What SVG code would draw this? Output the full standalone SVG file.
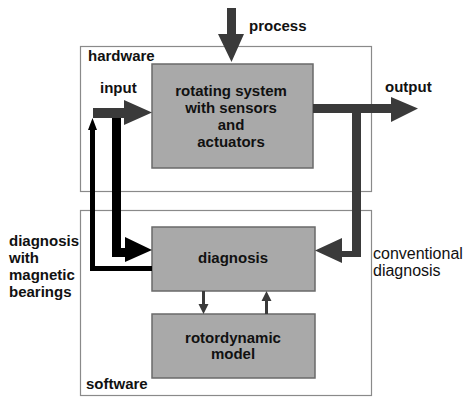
<svg xmlns="http://www.w3.org/2000/svg" width="475" height="397" viewBox="0 0 475 397">
<style>
.frame{fill:none;stroke:#8a8a8a;stroke-width:1.2}
.box{fill:#a9a9a9;stroke:#6a6a6a;stroke-width:1.5}
.t{font-family:"Liberation Sans",Arial,sans-serif;font-weight:bold;fill:#111;font-size:15px}
.in{text-anchor:middle}
.norm{font-weight:normal;font-size:16px}
.dark{fill:#3a3a3a}
.blk{fill:#000}
</style>
<rect width="475" height="397" fill="#fff"/>
<g id="hardware">
<rect class="frame" x="80.5" y="46.5" width="291" height="145"/>
<text class="t" x="88" y="61">hardware</text>
</g>
<g id="software">
<rect class="frame" x="80.5" y="210.5" width="291" height="185"/>
<text class="t" x="86" y="389">software</text>
</g>
<g id="rotating">
<rect class="box" x="152" y="64" width="161" height="104"/>
<text class="t in" x="231" y="96">rotating system</text>
<text class="t in" x="231" y="113">with sensors</text>
<text class="t in" x="231" y="130">and</text>
<text class="t in" x="231" y="147">actuators</text>
</g>
<g id="diagnosis">
<rect class="box" x="152" y="227" width="163" height="64"/>
<text class="t in" x="233" y="263">diagnosis</text>
</g>
<g id="model">
<rect class="box" x="152" y="314" width="163" height="64"/>
<text class="t in" x="233" y="343">rotordynamic</text>
<text class="t in" x="233" y="359">model</text>
</g>
<g id="connectors">
<polygon class="dark" points="227,8 236,8 236,34 244,34 231.5,62 218,34 227,34"/>
<polygon class="dark" points="93,108 124,108 124,100 152,112.5 124,125 124,118 93,118"/>
<polygon class="blk" points="112,118 121,118 121,248 125,248 125,237 152,250 125,262 125,257 112,257"/>
<polygon class="blk" points="152,266 152,271 90,271 90,130 88,130 92.5,118 97,130 95,130 95,266"/>
<polygon class="dark" points="313,104 391,104 391,97 418,108.5 391,122 391,113 313,113"/>
<polygon class="dark" points="352,113 361,113 361,257 342,257 342,263 315,250.5 342,238 342,251 352,251"/>
<polygon class="dark" points="202,291 205,291 205,304 208.5,304 203.5,314 198.5,304 202,304"/>
<polygon class="dark" points="265,314 268,314 268,301 271.5,301 266.5,291 261.5,301 265,301"/>
</g>
<g id="labels">
<text class="t" x="249" y="31">process</text>
<text class="t" x="100" y="93">input</text>
<text class="t" x="385" y="92">output</text>
<text class="t" x="9" y="246">diagnosis</text>
<text class="t" x="9" y="263">with</text>
<text class="t" x="9" y="280">magnetic</text>
<text class="t" x="9" y="297">bearings</text>
<text class="t norm" x="373" y="259">conventional</text>
<text class="t norm" x="373" y="276">diagnosis</text>
</g>
</svg>
